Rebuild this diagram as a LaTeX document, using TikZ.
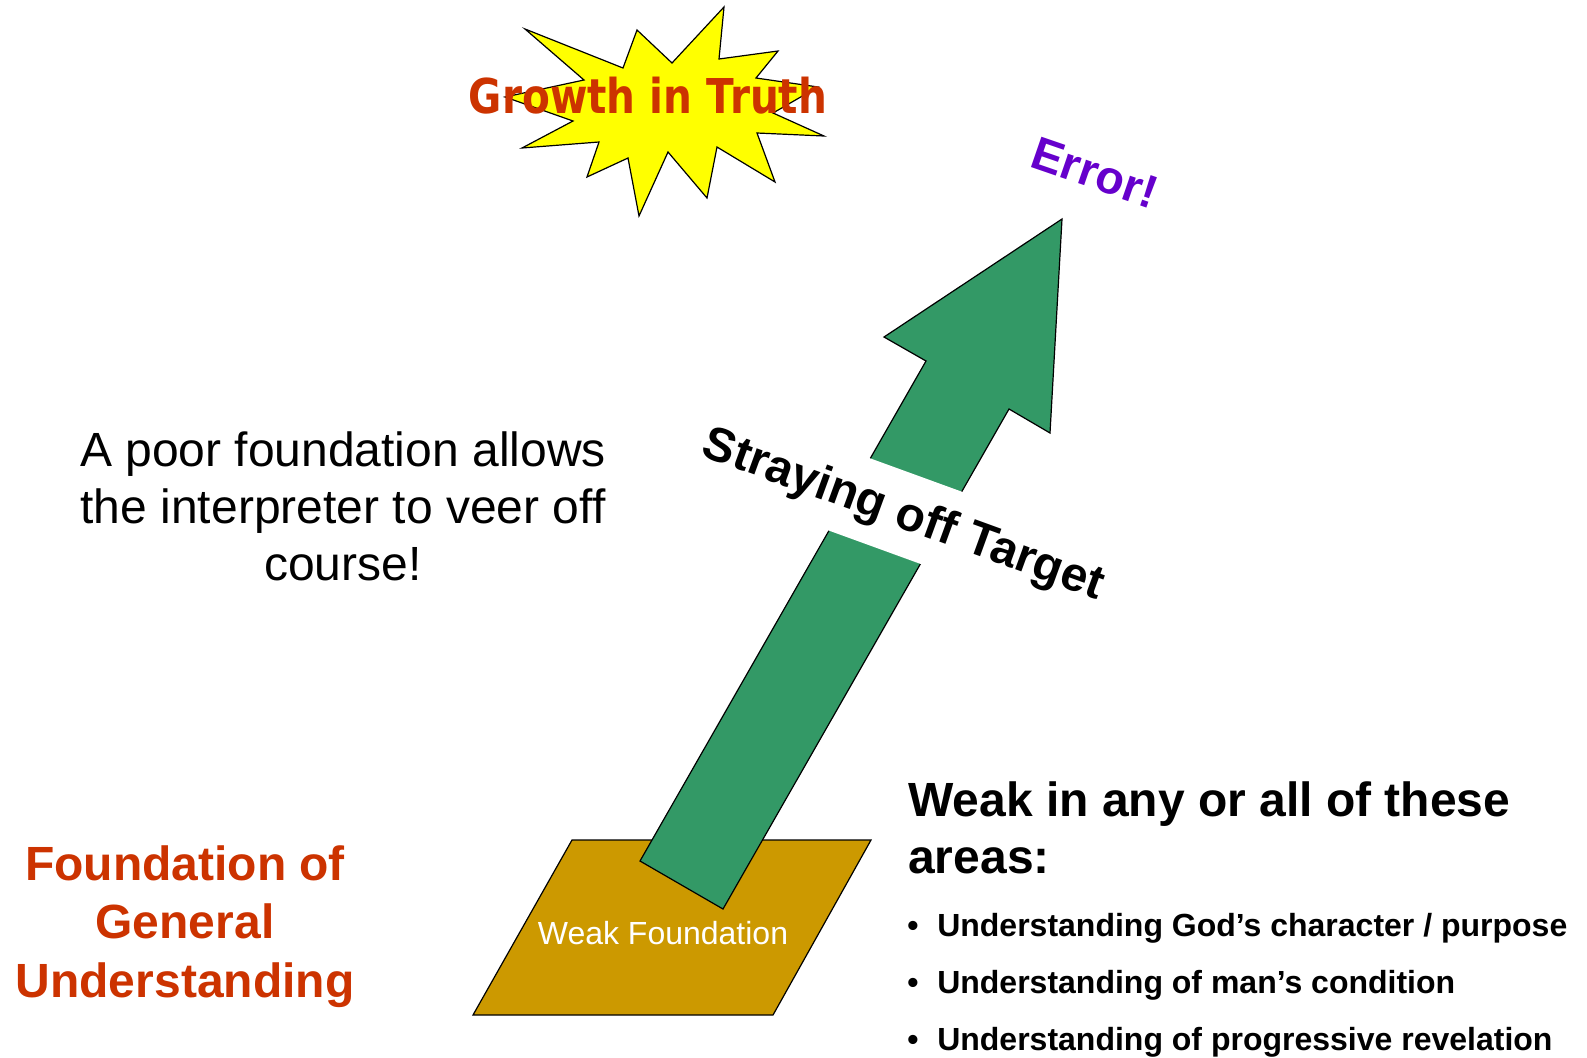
\documentclass[tikz,border=0pt]{standalone}
\usepackage{fontspec}
\usepackage{graphicx}
\setmainfont{Liberation Sans}
\newfontfamily\dejavu{DejaVu Sans}
\definecolor{rust}{HTML}{CC3300}
\definecolor{errpurple}{HTML}{6600CC}
\definecolor{arrowgreen}{HTML}{339966}
\definecolor{gold}{HTML}{CC9900}
\definecolor{staryellow}{HTML}{FFFF00}
\tikzset{
  outline/.style={draw=black, line width=0.9pt, line join=miter},
  big/.style={font=\fontsize{36}{43}\selectfont, inner sep=0pt, anchor=base},
  bigbold/.style={font=\fontsize{36}{43}\selectfont\bfseries, inner sep=0pt, anchor=base},
  small/.style={font=\fontsize{24}{29}\selectfont\bfseries, inner sep=0pt, anchor=base},
}
\begin{document}
\begin{tikzpicture}[x=0.75pt,y=-0.75pt]
\useasboundingbox (0,0) rectangle (1587,1057);
\fill[white] (0,0) rectangle (1587,1057);

% starburst
\filldraw[outline, fill=staryellow]
  (525,29) -- (623,68) -- (637,30) -- (672,63) -- (724,7) -- (719,59) -- (778,51)
  -- (756,78) -- (818,87) -- (773,113) -- (824,136) -- (757,133) -- (775,182)
  -- (717,147) -- (707,198) -- (668,152) -- (639,216) -- (628,158) -- (587,177)
  -- (599,142) -- (522,148) -- (573,121) -- (505,97) -- (584,80) -- cycle;
\node[inner sep=0pt, anchor=base, text=rust] (growth) at (648,113)
  {\scalebox{0.845}[1]{\fontsize{36}{43}\selectfont\dejavu\bfseries Growth in Truth}};

% weak foundation parallelogram
\filldraw[outline, fill=gold] (572,840) -- (871,840) -- (773,1015) -- (473,1015) -- cycle;
\node[inner sep=0pt, anchor=base, text=white, font=\fontsize{24}{29}\selectfont] (weakf) at (663,944) {Weak Foundation};

% green arrow
\filldraw[outline, fill=arrowgreen]
  (1062,219) -- (1050,433) -- (1009,409) -- (723,909) -- (640,861)
  -- (926,361) -- (884,337) -- cycle;

% straying label: white band cutting the shaft, then the text
\node[fill=white, rotate=-20, minimum height=61.5pt, minimum width=330pt, inner sep=0pt] (band) at (895,511) {};
\node[rotate=-20, inner sep=0pt, font=\fontsize{36}{43}\selectfont\bfseries] (stray) at (903,516) {Straying off Target};

% error
\node[rotate=-19, inner sep=0pt, text=errpurple, font=\fontsize{35}{42}\selectfont\bfseries] (err) at (1095,173) {Error!};

% left explanation
\node[big] (poor1) at (343,466) {A poor foundation allows};
\node[big] (poor2) at (343,523) {the interpreter to veer off};
\node[big] (poor3) at (343,580) {course!};

% foundation of general understanding
\node[bigbold, text=rust] (fg1) at (185,880) {Foundation of};
\node[bigbold, text=rust] (fg2) at (185,938) {General};
\node[bigbold, text=rust] (fg3) at (185,997) {Understanding};

% right list
\node[bigbold, anchor=base west] (wk1) at (908,816) {Weak in any or all of these};
\node[bigbold, anchor=base west] (wk2) at (908,873) {areas:};
\node[small] (b1) at (913,936) {•};
\node[small, anchor=base west] (l1) at (937,936) {Understanding God’s character / purpose};
\node[small] (b2) at (913,993) {•};
\node[small, anchor=base west] (l2) at (937,993) {Understanding of man’s condition};
\node[small] (b3) at (913,1050) {•};
\node[small, anchor=base west] (l3) at (937,1050) {Understanding of progressive revelation};
\end{tikzpicture}
\end{document}
